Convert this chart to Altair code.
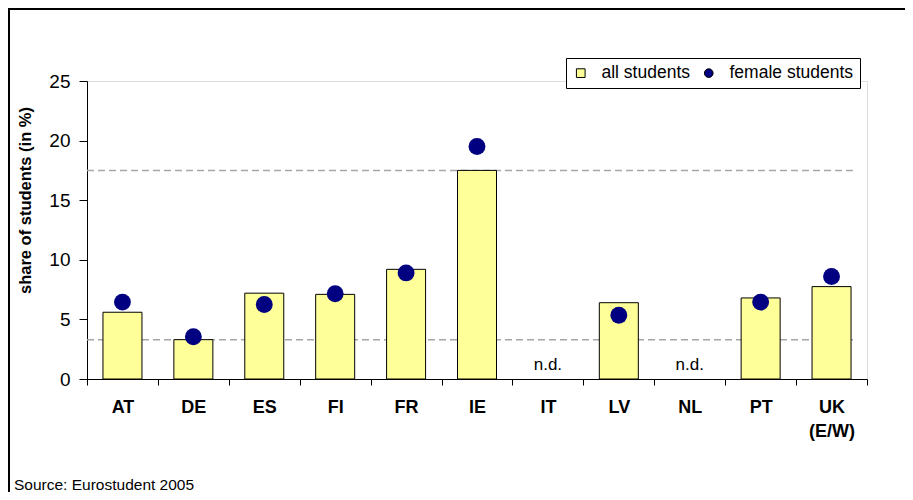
import altair as alt
import pandas as pd

countries = ["AT", "DE", "ES", "FI", "FR", "IE", "IT", "LV", "NL", "PT", "UK (E/W)"]
all_students = [5.6, 3.3, 7.2, 7.1, 9.2, 17.5, None, 6.4, None, 6.8, 7.75]
female_students = [6.45, 3.55, 6.25, 7.15, 8.9, 19.5, None, 5.35, None, 6.45, 8.6]
ref_lines = [17.5, 3.3]
nd_countries = ["IT", "NL"]
series_names = ["all students", "female students"]
series_colors = ["#FFFF99", "#000080"]

FONT = "Liberation Sans"

df_all = pd.DataFrame({"country": countries, "value": all_students,
                       "series": series_names[0]}).dropna()
df_fem = pd.DataFrame({"country": countries, "value": female_students,
                       "series": series_names[1]}).dropna()
df_ref = pd.DataFrame({"value": ref_lines})
df_nd = pd.DataFrame({"country": nd_countries, "value": [0] * len(nd_countries), "label": "n.d."})
df_one = pd.DataFrame({"a": [0]})

x_enc = alt.X(
    "country:N", sort=countries, title=None,
    scale=alt.Scale(domain=countries, paddingInner=0, paddingOuter=0),
    axis=alt.Axis(
        labelAngle=0, labelFont=FONT, labelFontSize=18, labelFontWeight="bold",
        labelColor="black", labelPadding=13, labelLineHeight=24,
        labelExpr="datum.label == 'UK (E/W)' ? ['UK', '(E/W)'] : datum.label",
        tickBand="extent", tickSize=6, tickColor="black", domainColor="black",
        domainWidth=1, grid=False,
    ),
)
y_scale = alt.Scale(domain=[0, 25], nice=False, zero=True)
y_axis = alt.Axis(
    values=[0, 5, 10, 15, 20, 25], labelFont=FONT, labelFontSize=19, labelColor="black",
    labelPadding=9, tickSize=8, tickColor="black", domainColor="black", grid=False,
    title="share of students (in %)", titleFont=FONT, titleFontSize=16.5,
    titleFontWeight="bold", titleColor="black", titleAngle=270, titleX=-62, titleY=119,
    titleAlign="center", titleBaseline="middle",
)

color_scale = alt.Scale(domain=series_names, range=series_colors)
shape_scale = alt.Scale(domain=series_names, range=["square", "circle"])
legend = alt.Legend(
    title=None, orient="none", direction="horizontal", legendX=479, legendY=-23,
    labelFont=FONT, labelFontSize=17.5, labelColor="black", symbolSize=75,
    symbolStrokeColor="black", symbolStrokeWidth=1, labelOffset=12, columnPadding=9,
    strokeColor="black", fillColor="white", padding=6, cornerRadius=0,
)

frame = alt.Chart(df_one).mark_rect(fill=None, stroke="black", strokeWidth=2, clip=False).encode(
    x=alt.value(-78), x2=alt.value(900), y=alt.value(-72), y2=alt.value(600)
)

rules = alt.Chart(df_ref).mark_rule(color="#a6a6a6", strokeWidth=1.5, strokeDash=[7, 4]).encode(
    y=alt.Y("value:Q", scale=y_scale, axis=y_axis), x=alt.value(0), x2=alt.value(768)
)

bars = alt.Chart(df_all).mark_bar(
    width=alt.RelativeBandSize(0.55), stroke="black", strokeWidth=1
).encode(
    x=x_enc,
    y=alt.Y("value:Q", scale=y_scale, axis=y_axis),
    color=alt.Color("series:N", scale=color_scale, legend=legend),
    shape=alt.Shape("series:N", scale=shape_scale, legend=legend),
)

points = alt.Chart(df_fem).mark_point(filled=True, size=285, opacity=1).encode(
    x=x_enc,
    y=alt.Y("value:Q", scale=y_scale, axis=y_axis),
    color=alt.Color("series:N", scale=color_scale, legend=legend),
    shape=alt.Shape("series:N", scale=shape_scale, legend=legend),
)

nd_text = alt.Chart(df_nd).mark_text(
    font=FONT, fontSize=17, color="black", baseline="alphabetic", dy=-9
).encode(
    x=x_enc, y=alt.Y("value:Q", scale=y_scale, axis=y_axis), text="label:N"
)

source = alt.Chart(df_one).mark_text(
    text="Source: Eurostudent 2005", font=FONT, fontSize=15.5, color="black",
    align="left", baseline="alphabetic", clip=False
).encode(x=alt.value(-73), y=alt.value(409))

chart = alt.layer(frame, rules, bars, points, nd_text, source).properties(
    width=780, height=298,
    autosize=alt.AutoSizeParams(type="none"),
    padding={"left": 79, "top": 73, "right": 38, "bottom": 113},
).configure_view(stroke=None).configure(background="white")

chart.save("out.html", embed_options={"renderer": "svg", "actions": False})
